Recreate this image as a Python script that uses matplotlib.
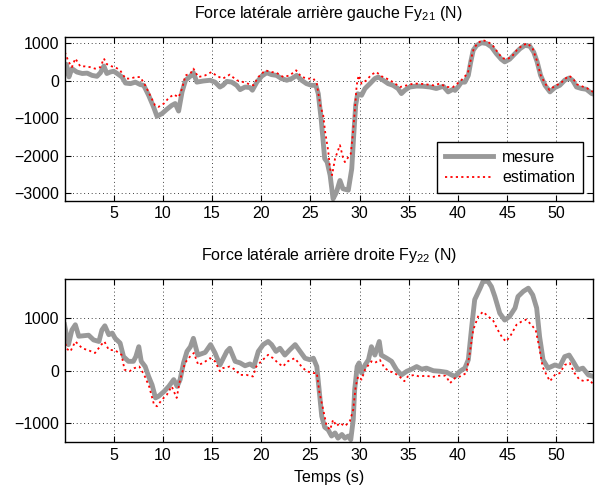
import matplotlib
matplotlib.use("Agg")
import matplotlib.pyplot as plt

plt.rcParams['font.family'] = ['Liberation Sans', 'DejaVu Sans']
plt.rcParams['mathtext.default'] = 'regular'
plt.rcParams['axes.unicode_minus'] = True

# ---------------- data ----------------
# Top: Fy21 measure
t1m = [0.0, 0.2, 0.45, 0.75, 1.25, 1.8, 2.3, 2.8, 3.3, 3.65,
       4.0, 4.3, 4.65, 5.0, 5.35, 5.85, 6.2, 6.7, 7.2, 7.7,
       8.05, 8.55, 9.05, 9.4, 9.9, 10.4, 10.9, 11.25, 11.6, 11.95,
       12.3, 12.8, 13.1, 13.45, 14.1, 14.8, 15.3, 15.8, 16.1, 16.5,
       17.0, 17.5, 17.85, 18.35, 18.85, 19.1, 19.55, 20.05, 20.55, 21.05,
       21.55, 22.05, 22.6, 23.1, 23.6, 24.1, 24.6, 25.1, 25.55, 25.8,
       26.1, 26.45, 26.7, 27.0, 27.3, 27.65, 28.0, 28.3, 28.85, 29.2,
       29.4, 29.6, 29.8, 30.2, 30.55, 31.05, 31.55, 31.9, 32.4, 32.9,
       33.4, 33.9, 34.25, 34.6, 35.1, 35.8, 36.45, 37.15, 37.8, 38.5,
       39.0, 39.5, 39.7, 40.0, 40.35, 40.7, 41.05, 41.3, 41.55, 41.9,
       42.4, 42.9, 43.4, 43.9, 44.4, 44.75, 45.25, 45.8, 46.3, 46.8,
       47.3, 47.7, 48.05, 48.4, 48.85, 49.35, 49.85, 50.35, 50.85, 51.3,
       51.65, 52.05, 52.55, 53.05, 53.6, 53.8]
v1m = [450, 430, 100, 320, 230, 190, 200, 140, 115, 210,
       390, 190, 230, 250, 190, 95, -65, -80, -40, -105,
       -125, -390, -700, -950, -880, -765, -660, -610, -810, -300,
       10, 120, 210, -40, -10, 10, -40, -170, -125, -20,
       -40, -125, -240, -170, -185, -255, -40, 120, 210, 160,
       140, 55, 10, 55, 140, 10, -80, -125, -125, -350,
       -1050, -2080, -2170, -2520, -3150, -2970, -2660, -2880, -2920, -2350,
       -1460, -660, -350, -390, -210, -80, 55, 95, 10, -80,
       -125, -210, -345, -255, -170, -145, -150, -170, -210, -150,
       -300, -230, -260, -170, -40, -40, 140, 500, 810, 940,
       1010, 990, 900, 720, 570, 500, 570, 720, 850, 940,
       920, 760, 500, 140, -125, -300, -185, -125, 10, 70,
       10, -170, -210, -230, -345, -360]

# Top: Fy21 estimation
t1e = [0.0, 0.05, 0.4, 0.75, 1.1, 1.6, 2.1, 2.6, 3.1, 3.65,
       4.0, 4.3, 4.8, 5.15, 5.65, 6.2, 6.7, 7.2, 7.7, 8.2,
       8.7, 9.2, 9.55, 10.1, 10.6, 11.1, 11.6, 11.95, 12.3, 12.8,
       13.1, 13.6, 14.3, 14.95, 15.5, 16.1, 16.8, 17.5, 18.2, 18.85,
       19.2, 19.7, 20.4, 21.05, 21.55, 22.25, 22.9, 23.55, 24.1, 24.8,
       25.3, 25.65, 26.0, 26.3, 26.5, 26.8, 27.0, 27.2, 27.5, 27.75,
       28.0, 28.3, 28.5, 28.85, 29.1, 29.3, 29.5, 29.7, 29.9, 30.2,
       30.7, 31.2, 31.7, 32.2, 32.75, 33.4, 34.1, 34.8, 35.45, 36.1,
       36.8, 37.5, 38.15, 38.85, 39.5, 40.3, 41.0, 41.3, 41.6, 42.0,
       42.5, 43.0, 43.5, 44.0, 44.5, 45.0, 45.5, 46.0, 46.6, 47.1,
       47.6, 48.0, 48.4, 48.8, 49.3, 49.9, 50.4, 50.9, 51.3, 51.7,
       52.1, 52.6, 53.1, 53.6, 53.8]
v1e = [600, 750, 510, 360, 590, 380, 380, 360, 320, 360,
       590, 440, 380, 360, 275, 55, 55, 95, 95, -125,
       -390, -660, -700, -610, -460, -370, -440, -210, 140, 190,
       320, 95, 140, 230, 120, 55, 160, 10, -40, -100,
       -125, 95, 275, 230, 210, 95, 140, 275, 95, 55,
       55, -80, -660, -925, -1370, -1860, -2350, -2520, -2080, -1900,
       -1720, -2040, -2170, -2040, -1950, -1460, -840, -125, 140, -80,
       10, 160, 230, 120, 55, -40, -170, -125, -80, -80,
       -100, -125, -80, -170, -170, 0, 200, 550, 850, 1000,
       1080, 1040, 950, 770, 600, 570, 650, 820, 950, 990,
       850, 550, 150, -50, -250, -130, -80, 50, 130, 50,
       -100, -150, -200, -280, -300]

# Bottom: Fy22 measure
t2m = [0.0, 0.4, 0.75, 1.1, 1.45, 1.95, 2.45, 2.95, 3.5, 3.8,
       4.1, 4.5, 4.85, 5.15, 5.65, 6.0, 6.5, 7.0, 7.25, 7.55,
       7.8, 8.2, 8.55, 8.9, 9.25, 9.55, 10.1, 10.6, 11.1, 11.45,
       11.75, 12.1, 12.45, 12.8, 13.1, 13.55, 14.3, 14.85, 15.3, 15.8,
       16.5, 16.8, 17.35, 17.85, 18.35, 18.85, 19.25, 19.7, 20.2, 20.7,
       21.05, 21.5, 21.9, 22.4, 22.9, 23.45, 23.95, 24.45, 24.95, 25.3,
       25.65, 25.85, 26.15, 26.45, 26.8, 27.15, 27.5, 27.8, 28.2, 28.5,
       28.85, 29.1, 29.35, 29.5, 29.75, 29.95, 30.2, 30.55, 30.9, 31.2,
       31.55, 32.0, 32.2, 32.75, 33.25, 33.75, 34.25, 34.8, 35.3, 35.8,
       36.3, 36.8, 37.5, 38.15, 38.85, 39.35, 39.7, 40.2, 40.7, 41.05,
       41.4, 41.7, 42.25, 42.55, 43.05, 43.4, 43.75, 44.25, 44.75, 45.25,
       45.8, 46.1, 46.65, 47.15, 47.6, 48.0, 48.3, 48.65, 49.15, 49.5,
       49.85, 50.35, 50.85, 51.3, 51.7, 52.2, 52.7, 53.25, 53.8]
v2m = [880, 500, 780, 880, 660, 670, 680, 590, 560, 780,
       860, 690, 720, 620, 530, 270, 180, 180, 270, 460,
       180, 80, -110, -270, -520, -490, -400, -300, -170, -300,
       -170, 150, 370, 460, 620, 300, 350, 500, 340, 110,
       370, 430, 180, 150, 95, 130, 80, 370, 500, 560,
       500, 370, 430, 300, 400, 500, 370, 240, 210, 240,
       80, -300, -870, -1080, -1130, -1250, -1190, -1290, -1220, -1290,
       -1250, -1320, -940, -360, 80, 150, -45, 110, 210, 460,
       300, 560, 300, 240, 180, 20, -80, -10, 30, 80,
       30, 50, 0, -10, -30, -80, -110, -10, 50, 210,
       850, 1360, 1580, 1710, 1710, 1610, 1420, 1100, 970, 1040,
       1200, 1420, 1520, 1580, 1450, 1200, 650, 210, 50, 80,
       110, 80, 270, 300, 180, 20, 50, -80, -110]

# Bottom: Fy22 estimation
t2e = [0.0, 0.15, 0.6, 1.1, 1.8, 2.45, 3.1, 3.75, 4.05, 4.5,
       5.15, 5.8, 6.1, 6.6, 7.1, 7.6, 8.1, 8.6, 9.1, 9.4,
       9.9, 10.4, 10.9, 11.4, 11.75, 12.25, 12.75, 13.15, 13.6, 14.1,
       14.8, 15.3, 15.8, 16.1, 16.8, 17.35, 17.85, 18.5, 19.15, 19.5,
       20.0, 20.7, 21.2, 21.7, 22.2, 22.7, 23.4, 24.1, 24.6, 25.3,
       25.65, 25.9, 26.3, 26.65, 27.0, 27.3, 27.65, 28.0, 28.5, 29.0,
       29.35, 29.6, 29.85, 30.2, 30.55, 30.9, 31.2, 31.55, 32.05, 32.55,
       33.05, 33.55, 34.05, 34.55, 34.9, 35.55, 36.05, 36.75, 37.4, 38.1,
       38.75, 39.2, 39.7, 40.2, 40.85, 41.2, 41.55, 42.05, 42.55, 43.05,
       43.55, 44.05, 44.55, 44.9, 45.4, 45.95, 46.45, 46.95, 47.45, 47.9,
       48.25, 48.6, 49.0, 49.35, 49.85, 50.35, 50.85, 51.35, 51.85, 52.35,
       52.85, 53.35, 53.8]
v2e = [720, 430, 370, 560, 430, 390, 340, 500, 560, 400,
       390, 305, 20, -10, 50, 80, -80, -300, -650, -680,
       -555, -460, -300, -520, -170, 150, 270, 340, 110, 150,
       240, 180, -10, 50, 80, 20, -80, -80, -110, 80,
       180, 305, 240, 150, 80, 180, 240, 80, -10, -45,
       -45, -400, -745, -1060, -1130, -940, -1060, -1000, -1060, -970,
       -745, -300, -110, -170, 20, 110, 180, 150, 210, 50,
       -10, -45, -110, -200, -110, -80, -110, -95, -120, -95,
       -95, -236, -140, -110, -45, 340, 780, 1040, 1130, 1040,
       970, 780, 620, 560, 690, 880, 940, 980, 880, 780,
       460, 80, -80, -200, -80, -45, 110, 150, -45, -170,
       -200, -170, -270]

xticks = [5, 10, 15, 20, 25, 30, 35, 40, 45, 50]
yticks_top = [-3000, -2000, -1000, 0, 1000]
yticks_bot = [-1000, 0, 1000]
title_top = "Force latérale arrière gauche Fy$_{21}$ (N)"
title_bot = "Force latérale arrière droite Fy$_{22}$ (N)"
legend_labels = ["mesure", "estimation"]
xlabel = "Temps (s)"

# ---------------- figure ----------------
fs = 11.5
fig = plt.figure(figsize=(6.07, 4.90), dpi=100)
ax1 = fig.add_axes([0.1063, 0.5904, 0.8702, 0.3331])
ax2 = fig.add_axes([0.1063, 0.0973, 0.8702, 0.3327])

gray = (0.6, 0.6, 0.6)

def style(ax, yticks, ylim):
    ax.set_xlim(0, 53.7)
    ax.set_ylim(*ylim)
    ax.set_xticks(xticks)
    ax.set_yticks(yticks)
    ax.grid(True, color='black', linestyle=(0, (1, 3.5)), linewidth=0.6)
    ax.tick_params(direction='in', length=4, width=0.8, top=True, right=True,
                   labelsize=fs, colors='black', pad=4)
    for s in ax.spines.values():
        s.set_linewidth(1.0)
        s.set_color('black')

l1, = ax1.plot(t1m, v1m, color=gray, linewidth=3.5, solid_joinstyle='round', label=legend_labels[0])
l2, = ax1.plot(t1e, v1e, color='red', linewidth=1.3, linestyle=(0, (1.2, 1.8)), label=legend_labels[1])
style(ax1, yticks_top, (-3200, 1150))
ax1.set_title(title_top, fontsize=fs, pad=14)
leg = ax1.legend(loc='lower right', bbox_to_anchor=(0.982, 0.045), borderaxespad=0,
                 fontsize=fs, fancybox=False, framealpha=1, edgecolor='black',
                 handlelength=3.0, borderpad=0.5, labelspacing=0.35, handletextpad=0.6)
leg.get_frame().set_linewidth(1.0)

ax2.plot(t2m, v2m, color=gray, linewidth=3.5, solid_joinstyle='round')
ax2.plot(t2e, v2e, color='red', linewidth=1.3, linestyle=(0, (1.2, 1.8)))
style(ax2, yticks_bot, (-1370, 1750))
ax2.set_title(title_bot, fontsize=fs, pad=14)
ax2.set_xlabel(xlabel, fontsize=fs, labelpad=5)

fig.savefig("out.png", dpi=100)
